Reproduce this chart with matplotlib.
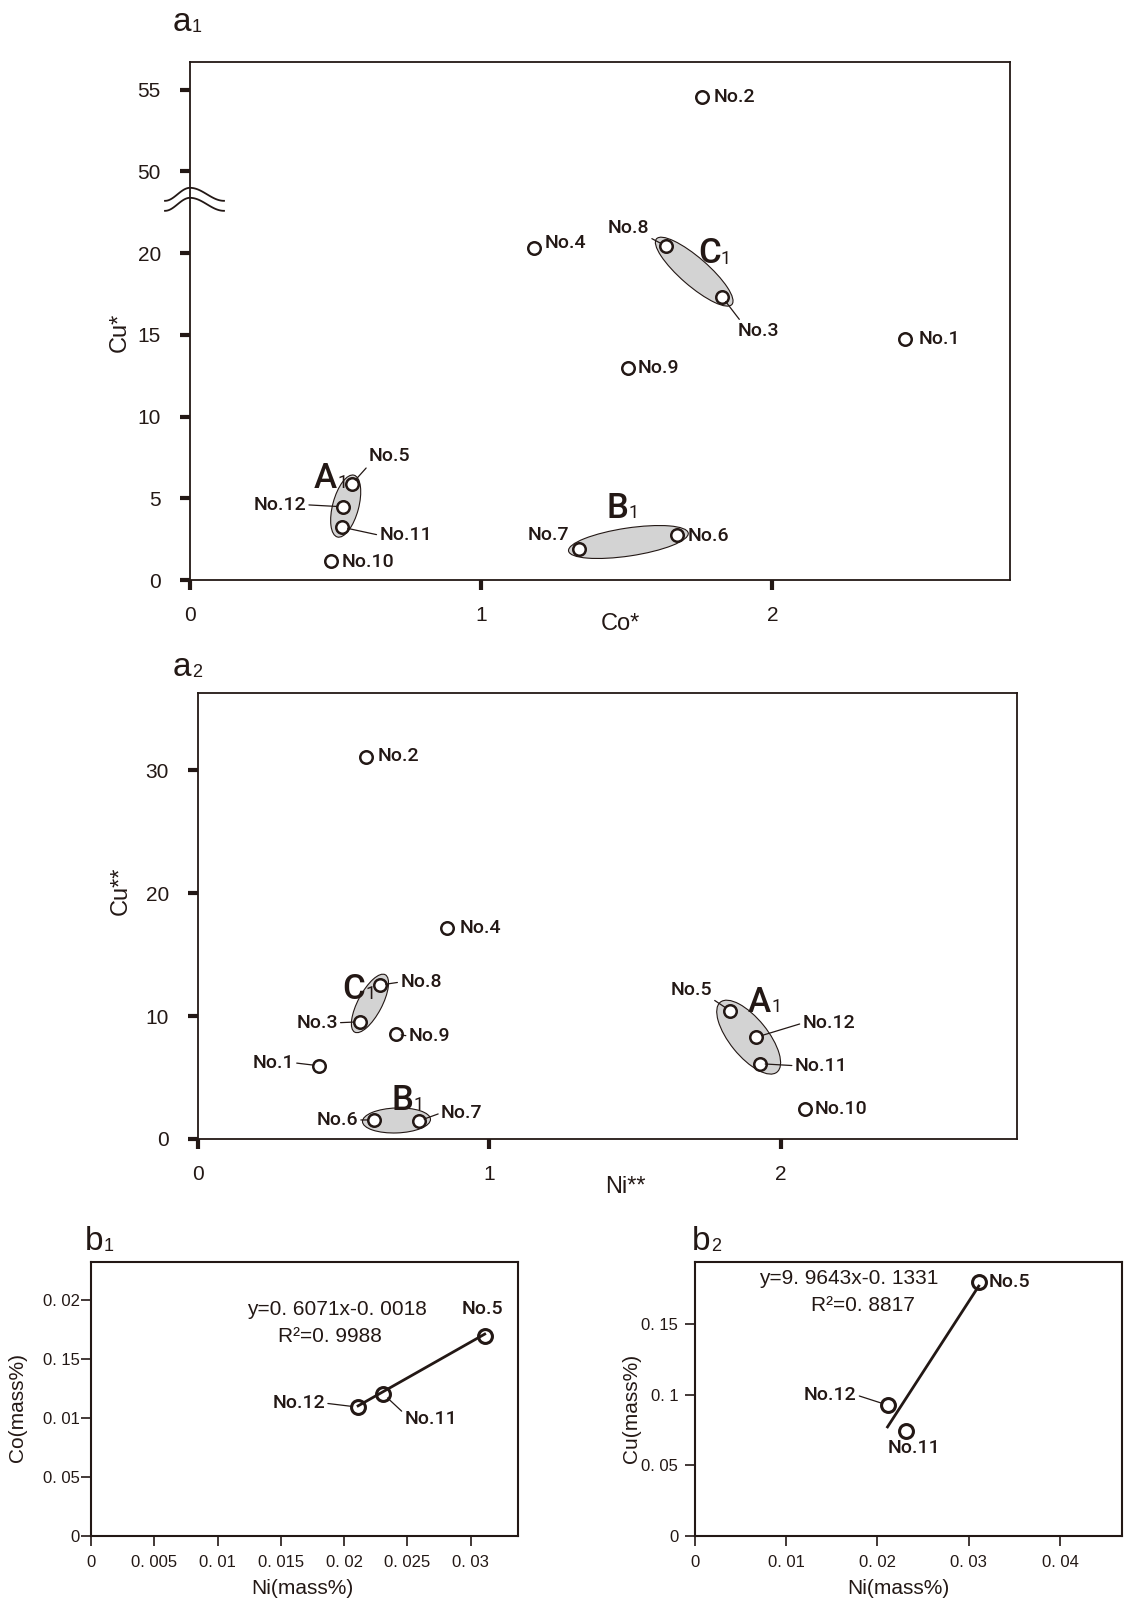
import matplotlib
matplotlib.use('Agg')
import matplotlib.pyplot as plt
import numpy as np
from matplotlib.patches import Ellipse
from matplotlib.transforms import Affine2D, ScaledTranslation

W, H = 1126, 1602
INK = '#231815'
PLAIN = ['Liberation Sans', 'DejaVu Sans']
TAG = ['Roboto', 'DejaVu Sans']
plt.rcParams['font.family'] = PLAIN
plt.rcParams['text.color'] = INK

# ---------------- data ----------------
names = ['No.1', 'No.2', 'No.3', 'No.4', 'No.5', 'No.6',
         'No.7', 'No.8', 'No.9', 'No.10', 'No.11', 'No.12']
co_star = [2.456, 1.758, 1.828, 1.183, 0.555, 1.674,
           1.337, 1.635, 1.505, 0.484, 0.523, 0.526]
cu_star = [14.75, 54.57, 17.31, 20.31, 5.86, 2.73,
           1.92, 20.43, 12.99, 1.16, 3.23, 4.48]
ni_2star = [0.415, 0.576, 0.555, 0.853, 1.825, 0.604,
            0.758, 0.625, 0.678, 2.084, 1.927, 1.916]
cu_2star = [5.96, 31.07, 9.54, 17.18, 10.45, 1.55,
            1.47, 12.53, 8.54, 2.47, 6.13, 8.29]

groups = {'A': ['No.5', 'No.11', 'No.12'],
          'B': ['No.6', 'No.7'],
          'C': ['No.3', 'No.8']}

b_names = ['No.5', 'No.11', 'No.12']
b_ni = [0.0311, 0.0231, 0.0211]
b_co = [0.0169, 0.0120, 0.0109]
b_cu = [0.1795, 0.0744, 0.0926]
fit_co = (0.6071, -0.0018)
fit_cu = (9.9643, -0.1331)

a_xticks = [0, 1, 2]
a1_yticks = [0, 5, 10, 15, 20, 50, 55]
a2_yticks = [0, 10, 20, 30]
b1_xticks = [0, 0.005, 0.01, 0.015, 0.02, 0.025, 0.03]
b1_xlabels = ['0', '0. 005', '0. 01', '0. 015', '0. 02', '0. 025', '0. 03']
b1_yticks = [0, 0.005, 0.01, 0.015, 0.02]
b1_ylabels = ['0', '0. 05', '0. 01', '0. 15', '0. 02']
b2_xticks = [0, 0.01, 0.02, 0.03, 0.04]
b2_xlabels = ['0', '0. 01', '0. 02', '0. 03', '0. 04']
b2_yticks = [0, 0.05, 0.1, 0.15]
b2_ylabels = ['0', '0. 05', '0. 1', '0. 15']


def brk(v):
    # broken y axis of a1: values above the gap are shifted down by 25
    return v if v < 35 else v - 25


# label layout: dx, dy (pixels), ha, leader relpos
a1_lab = {'No.1': (13, 0, 'left', None), 'No.2': (12, 0, 'left', None),
          'No.3': (15, -34, 'left', (0.1, 1)), 'No.4': (10, 5, 'left', None),
          'No.5': (17, 28, 'left', (0, 0)), 'No.6': (10, -1, 'left', None),
          'No.7': (-10, 14, 'right', None), 'No.8': (-17, 18, 'right', (1, 0)),
          'No.9': (9, 0, 'left', None), 'No.10': (11, -1, 'left', None),
          'No.11': (37, -8, 'left', (0, 0.5)), 'No.12': (-37, 2, 'right', (1, 0.5))}
a2_lab = {'No.1': (-25, 3, 'right', (1, 0.5)), 'No.2': (12, 1, 'left', None),
          'No.3': (-22, -1, 'right', (1, 0.5)), 'No.4': (13, 0, 'left', None),
          'No.5': (-18, 21, 'right', (1, 0)), 'No.6': (-16, 0, 'right', (1, 0.5)),
          'No.7': (22, 8, 'left', (0, 0.5)), 'No.8': (20, 3, 'left', (0, 0.5)),
          'No.9': (13, -2, 'left', (0, 0.5)), 'No.10': (9, 0, 'left', None),
          'No.11': (35, -2, 'left', (0, 0.5)), 'No.12': (46, 14, 'left', (0, 0.5))}
a1_ell = {'A': (64, 26, 75), 'B': (121, 28, 8.5), 'C': (100, 28, -41)}
a2_ell = {'A': (90, 38, -51), 'B': (68, 25, 2), 'C': (65, 24, 62)}
a1_glab = {'A': (-20, 28), 'B': (-11, 34), 'C': (15, 18)}
a2_glab = {'A': (11, 35), 'B': (6, 20), 'C': (-16, 14)}
b1_lab = {'No.5': (-2, 27, 'center', None), 'No.12': (-33, 4, 'right', (1, 0.5)),
          'No.11': (21, -25, 'left', (0, 0.8))}
b2_lab = {'No.5': (10, 0, 'left', None), 'No.12': (-31, 10, 'right', (1, 0.5)),
          'No.11': (8, -17, 'center', None)}

fig = plt.figure(figsize=(W / 100, H / 100), dpi=100)


def box(l, t, r, b):
    return fig.add_axes([l / W, 1 - b / H, (r - l) / W, (b - t) / H])


def ftext(x, y, s, **kw):
    return fig.text(x / W, 1 - y / H, s, **kw)


def style(ax, lw, tlen, twid, lsize, pad):
    for sp in ax.spines.values():
        sp.set_color(INK)
        sp.set_linewidth(lw)
    ax.tick_params(direction='out', length=tlen, width=twid, color=INK,
                   labelcolor=INK, labelsize=lsize, pad=pad)


def label_points(ax, nm, xs, ys, labs, size=14):
    for n, x, y in zip(nm, xs, ys):
        dx, dy, ha, rel = labs[n]
        ap = None
        if rel is not None:
            ap = dict(arrowstyle='-', color=INK, lw=0.9, shrinkA=0, shrinkB=4,
                      relpos=rel)
        ax.annotate(n, xy=(x, y), xytext=(dx, dy), textcoords='offset pixels',
                    ha=ha, va='center', fontsize=size, family=TAG,
                    fontweight='medium', arrowprops=ap, zorder=6)


def sub_text(ax, big, small, xy, off, bsize=25, ssize=13):
    t = ax.annotate(big, xy=xy, xytext=off, textcoords='offset pixels',
                    ha='center', va='center', fontsize=bsize, family=TAG,
                    fontweight='medium', zorder=7)
    ax.annotate(small, xy=(1.0, 0.2), xycoords=t, ha='left', va='baseline',
                fontsize=ssize, family=TAG, zorder=7)


def a_panel(ax, xs, ys, ell, glab, labs):
    idx = {n: i for i, n in enumerate(names)}
    for g, members in groups.items():
        gx = np.mean([xs[idx[m]] for m in members])
        gy = np.mean([ys[idx[m]] for m in members])
        w, h, ang = ell[g]
        tr = Affine2D() + ScaledTranslation(gx, gy, ax.transData)
        ax.add_patch(Ellipse((0, 0), w, h, angle=ang, transform=tr,
                             fc='#d3d3d3', ec=INK, lw=0.8, zorder=3))
        sub_text(ax, g, '1', (gx, gy), glab[g])
    ax.plot(xs, ys, 'o', ls='none', ms=9, mfc='white', mec=INK, mew=1.8,
            zorder=5, clip_on=False)
    label_points(ax, names, xs, ys, labs)


# ---------------- a1 ----------------
ax1 = box(190, 62, 1010, 580)
y1 = [brk(v) for v in cu_star]
a_panel(ax1, co_star, y1, a1_ell, a1_glab, a1_lab)
ax1.set_xlim(0, 2.816)
ax1.set_ylim(0, 31.7)
ax1.set_xticks(a_xticks)
ax1.set_yticks([brk(v) for v in a1_yticks])
ax1.set_yticklabels([str(v) for v in a1_yticks])
style(ax1, 1.3, 7, 3, 15, 12)
ax1.tick_params(axis='y', pad=14)
# axis break marks
t = np.linspace(-1, 1, 80)
hx = np.where(t < 0, 25 * t, 34 * t)
hy = -6.5 * (1 - np.cos(np.pi * t))
for y0 in (0, -10):
    tr = Affine2D().translate(0, y0) + ScaledTranslation(0, 24.0, ax1.transData)
    ax1.plot(hx, hy, transform=tr, color=INK, lw=1.3, clip_on=False)

ftext(120, 332, 'Cu*', rotation=90, ha='center', va='center', fontsize=17)
ftext(620, 624, 'Co*', ha='center', va='center', fontsize=17)

# ---------------- a2 ----------------
ax2 = box(198, 693, 1017, 1139)
a_panel(ax2, ni_2star, cu_2star, a2_ell, a2_glab, a2_lab)
ax2.set_xlim(0, 2.81)
ax2.set_ylim(0, 36.3)
ax2.set_xticks(a_xticks)
ax2.set_yticks(a2_yticks)
style(ax2, 1.3, 7, 3, 15, 12)
ax2.tick_params(axis='y', pad=14)
ftext(121, 891, 'Cu**', rotation=90, ha='center', va='center', fontsize=17)
ftext(625, 1187, 'Ni**', ha='center', va='center', fontsize=17)

# panel tags
for x, y, big, small in [(173, 31, 'a', '1'), (173, 676, 'a', '2'),
                         (85, 1250, 'b', '1'), (692, 1250, 'b', '2')]:
    tg = ftext(x, y, big, ha='left', va='baseline', fontsize=24)
    ax1.annotate(small, xy=(1.02, 0.2), xycoords=tg, ha='left', va='baseline',
                 fontsize=13, annotation_clip=False)


# ---------------- b panels ----------------
def b_panel(ax, ys, fit, labs, xt, xl, yt, yl, xlim, ylim, eq, r2, eqpos):
    xx = np.array([min(b_ni), max(b_ni)])
    ax.plot(xx, fit[0] * xx + fit[1], color=INK, lw=2.0, zorder=4)
    ax.plot(b_ni, ys, 'o', ls='none', ms=10, mfc='none', mec=INK, mew=2.2,
            zorder=5)
    label_points(ax, b_names, b_ni, ys, labs, size=14)
    ax.set_xlim(*xlim)
    ax.set_ylim(*ylim)
    ax.set_xticks(xt)
    ax.set_xticklabels(xl)
    ax.set_yticks(yt)
    ax.set_yticklabels(yl)
    ax.text(eqpos[0], eqpos[1], eq, transform=ax.transAxes, ha='center',
            va='center', fontsize=15)
    ax.text(eqpos[2], eqpos[3], r2, transform=ax.transAxes, ha='center',
            va='center', fontsize=15)


ax3 = box(91, 1262, 518, 1536)
b_panel(ax3, b_co, fit_co, b1_lab, b1_xticks, b1_xlabels, b1_yticks, b1_ylabels,
        (0, 0.03373), (0, 0.02318), 'y=0. 6071x-0. 0018', 'R²=0. 9988',
        (0.575, 0.827, 0.56, 0.727))
style(ax3, 1.5, 7, 1.2, 12, 1)
ax3.tick_params(axis='x', pad=7)

ax4 = box(695, 1262, 1122, 1536)
b_panel(ax4, b_cu, fit_cu, b2_lab, b2_xticks, b2_xlabels, b2_yticks, b2_ylabels,
        (0, 0.0468), (0, 0.1938), 'y=9. 9643x-0. 1331', 'R²=0. 8817',
        (0.361, 0.9405, 0.394, 0.843))
style(ax4, 1.5, 7, 1.2, 12, 5)
ax4.tick_params(axis='x', pad=7)

ftext(18, 1408, 'Co(mass%)', rotation=90, ha='center', va='center', fontsize=15)
ftext(302, 1588, 'Ni(mass%)', ha='center', va='center', fontsize=15)
ftext(632, 1408, 'Cu(mass%)', rotation=90, ha='center', va='center', fontsize=15)
ftext(898, 1588, 'Ni(mass%)', ha='center', va='center', fontsize=15)

fig.savefig('out.png', dpi=100)
